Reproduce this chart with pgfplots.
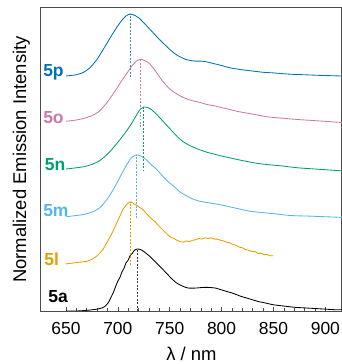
\documentclass[border=0pt]{standalone}
\usepackage{fontspec}
\setmainfont{Liberation Sans}
\usepackage{pgfplots}
\pgfplotsset{compat=1.18}
\usepackage{pgfplotstable}
\definecolor{c5p}{RGB}{0,114,178}
\definecolor{c5o}{RGB}{204,121,167}
\definecolor{c5n}{RGB}{0,158,115}
\definecolor{c5m}{RGB}{86,180,233}
\definecolor{c5l}{RGB}{230,159,0}

\pgfplotstableread{
x y
650 0.00
660 0.02
667 0.06
673 0.13
680 0.27
686 0.43
690 0.54
695 0.68
700 0.81
704 0.90
708 0.97
712 1.00
716 0.98
720 0.94
725 0.86
730 0.77
735 0.68
740 0.59
745 0.51
750 0.43
755 0.36
760 0.31
765 0.27
770 0.25
775 0.24
780 0.24
785 0.23
790 0.21
795 0.19
800 0.17
806 0.14
812 0.12
820 0.10
830 0.08
840 0.06
850 0.05
865 0.03
880 0.02
895 0.01
916 0.00
}\tabP

\pgfplotstableread{
x y
650 0.00
660 0.02
668 0.05
675 0.09
682 0.16
689 0.29
695 0.43
699 0.53
704 0.66
709 0.78
714 0.90
718 0.97
722 1.00
726 0.98
730 0.94
735 0.84
740 0.72
745 0.61
750 0.52
755 0.46
760 0.41
765 0.37
770 0.34
775 0.32
780 0.30
786 0.27
793 0.25
800 0.22
808 0.19
815 0.16
825 0.13
835 0.10
845 0.07
858 0.05
872 0.03
890 0.01
916 -0.02
}\tabO

\pgfplotstableread{
x y
650 0.00
660 0.02
668 0.04
676 0.08
683 0.14
690 0.24
695 0.33
700 0.43
706 0.56
712 0.70
717 0.84
721 0.95
725 1.00
729 0.99
733 0.95
738 0.87
743 0.78
748 0.69
753 0.60
758 0.51
763 0.44
768 0.39
773 0.35
779 0.31
786 0.27
793 0.24
800 0.21
808 0.18
816 0.15
825 0.12
835 0.09
845 0.07
858 0.05
873 0.02
890 0.00
916 -0.03
}\tabN

\pgfplotstableread{
x y
650 0.00
660 0.02
668 0.04
676 0.08
683 0.15
690 0.29
695 0.42
699 0.54
704 0.70
709 0.85
713 0.95
718 1.00
722 0.98
726 0.94
731 0.86
737 0.77
742 0.68
747 0.59
754 0.49
760 0.40
767 0.33
773 0.28
779 0.25
786 0.23
793 0.21
800 0.19
808 0.16
816 0.13
827 0.09
838 0.07
850 0.05
866 0.02
885 0.01
916 -0.01
}\tabM

\pgfplotstableread{
x y
650 0.00
655 0.01
660 0.02
665 0.03
670 0.04
673 0.06
676 0.08
680 0.13
683 0.18
686 0.24
690 0.36
693 0.45
696 0.55
699 0.66
702 0.77
705 0.88
708 0.95
710 0.98
712 1.00
714 0.99
716 0.96
718 0.95
721 0.91
724 0.88
727 0.82
730 0.77
733 0.72
736 0.68
739 0.62
742 0.57
745 0.52
748 0.47
751 0.43
754 0.41
757 0.38
760 0.36
763 0.35
766 0.37
769 0.36
772 0.38
775 0.39
778 0.41
781 0.40
784 0.42
787 0.41
790 0.42
793 0.40
796 0.40
799 0.38
802 0.37
805 0.35
808 0.34
811 0.31
814 0.30
817 0.27
820 0.26
823 0.23
826 0.22
829 0.20
832 0.20
835 0.17
838 0.17
841 0.15
844 0.15
847 0.13
850 0.13
}\tabL

\pgfplotstableread{
x y
650 0.00
660 0.00
670 0.01
680 0.03
685 0.05
688 0.08
691 0.14
694 0.24
696 0.31
698 0.40
700 0.48
702 0.54
704 0.63
706 0.69
708 0.78
710 0.82
712 0.90
714 0.93
716 0.98
719 1.00
722 0.99
725 0.96
728 0.92
731 0.88
734 0.83
737 0.78
740 0.73
744 0.66
748 0.59
752 0.52
756 0.46
760 0.42
764 0.39
768 0.37
775 0.37
782 0.38
788 0.38
794 0.37
800 0.34
806 0.31
812 0.28
818 0.24
824 0.21
830 0.18
836 0.15
842 0.13
850 0.10
860 0.08
870 0.06
880 0.05
890 0.04
900 0.03
910 0.02
916 0.02
}\tabA

\begin{document}
\begin{tikzpicture}
\begin{axis}[
  name=ax, scale only axis, width=301bp, height=303bp,
  xmin=626, xmax=916, ymin=0, ymax=4.887,
  axis line style={black!70, line width=1bp},
  xtick={650,700,750,800,850,900}, minor x tick num=4,
  ytick=\empty, xtick pos=bottom, tick align=inside,
  major tick length=4bp, minor tick length=2.5bp,
  tick style={black!70, line width=0.6bp},
  /pgf/number format/assume math mode=true,
  /pgf/number format/1000 sep={},
  xticklabel style={font=\fontsize{17.5}{19}\selectfont, yshift=-8bp},
  xlabel={λ / nm},
  xlabel style={font=\fontsize{18.5}{20}\selectfont, at={(axis description cs:0.5,0)}, anchor=north, yshift=-33bp},
  ylabel={Normalized Emission Intensity},
  ylabel style={font=\fontsize{18.5}{20}\selectfont, at={(axis description cs:-0.025,0.5)}, anchor=south},
]
\addplot[c5p, line width=0.85pt, smooth, tension=0.4] table[x=x, y expr=\thisrow{y}+3.79] {\tabP};
\addplot[c5o, line width=0.85pt, smooth, tension=0.4] table[x=x, y expr=\thisrow{y}+3.06] {\tabO};
\addplot[c5n, line width=0.85pt, smooth, tension=0.4] table[x=x, y expr=\thisrow{y}+2.29] {\tabN};
\addplot[c5m, line width=0.85pt, smooth, tension=0.4] table[x=x, y expr=\thisrow{y}+1.52] {\tabM};
\addplot[c5l, line width=0.85pt] table[x=x, y expr=\thisrow{y}+0.76] {\tabL};
\addplot[black, line width=0.85pt, smooth, tension=0.3] table[x=x, y expr=\thisrow{y}] {\tabA};

\addplot[c5p!80, line width=0.6pt, dash pattern=on 2pt off 1.5pt] coordinates {(712,3.77) (712,4.79)};
\addplot[c5o, line width=0.6pt, dash pattern=on 2pt off 1.5pt] coordinates {(722,2.96) (722,4.06)};
\addplot[c5n, line width=0.6pt, dash pattern=on 2pt off 1.5pt] coordinates {(725,2.25) (725,3.29)};
\addplot[c5m, line width=0.6pt, dash pattern=on 2pt off 1.5pt] coordinates {(718,1.50) (718,2.52)};
\addplot[c5l, line width=0.6pt, dash pattern=on 2pt off 1.5pt] coordinates {(712,0.74) (712,1.76)};
\addplot[black!75, line width=0.6pt, dash pattern=on 2pt off 1.5pt] coordinates {(719,0) (719,1.0)};

\node[anchor=base west, inner sep=0pt, text=c5p, font=\fontsize{17.5}{19}\selectfont\bfseries] at (axis cs:628,3.79) {5p};
\node[anchor=base west, inner sep=0pt, text=c5o, font=\fontsize{17.5}{19}\selectfont\bfseries] at (axis cs:628,3.03) {5o};
\node[anchor=base west, inner sep=0pt, text=c5n, font=\fontsize{17.5}{19}\selectfont\bfseries] at (axis cs:629.5,2.27) {5n};
\node[anchor=base west, inner sep=0pt, text=c5m, font=\fontsize{17.5}{19}\selectfont\bfseries] at (axis cs:628,1.52) {5m};
\node[anchor=base west, inner sep=0pt, text=c5l, font=\fontsize{17.5}{19}\selectfont\bfseries] at (axis cs:629,0.74) {5l};
\node[anchor=base west, inner sep=0pt, text=black, font=\fontsize{17.5}{19}\selectfont\bfseries] at (axis cs:633,0.13) {5a};
\end{axis}
\pgfresetboundingbox
\path[use as bounding box] ([shift={(-41bp,-53bp)}]ax.south west) rectangle ([shift={(0bp,8bp)}]ax.north east);
\end{tikzpicture}
\end{document}
